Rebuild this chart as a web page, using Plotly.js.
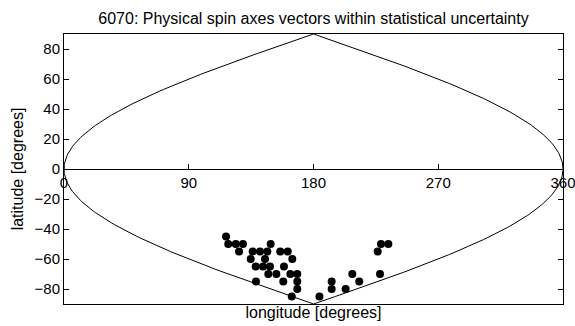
<!DOCTYPE html>
<html>
<head>
<meta charset="utf-8">
<script src="https://cdn.plot.ly/plotly-3.0.1.min.js"></script>
<style>html,body{margin:0;padding:0;background:#fff;}#chart{width:575px;height:326px;}</style>
</head>
<body>
<div id="chart"></div>
<script>
// Spin axis solutions (projected longitude, latitude)
const spinLon = [116.9, 118.5, 123.9, 129.1, 126.3, 149.1, 136.1, 141.4, 146.7, 156.0,
                 161.4, 134.7, 145.0, 164.7, 138.3, 143.6, 148.6, 158.7, 147.4, 153.2,
                 163.3, 168.3, 138.5, 158.2, 168.3, 168.3, 164.3, 184.3, 193.1, 193.1,
                 203.2, 208.0, 213.0, 228.0, 226.3, 228.7, 234.0];
const spinLat = [-45, -50, -50, -50, -55, -50, -55, -55, -55, -55,
                 -55, -60, -60, -60, -65, -65, -65, -65, -70, -70,
                 -70, -70, -75, -75, -75, -80, -85, -85, -75, -80,
                 -80, -70, -75, -70, -55, -50, -50];
const xTicks = [0, 90, 180, 270, 360];
const yTicks = [-80, -60, -40, -20, 0, 20, 40, 60, 80];

// Map outline (sinusoidal projection edge, lon = 0 and lon = 360)
const outlineLat = [];
for (let a = -90; a <= 90; a += 1) outlineLat.push(a);
const rad = Math.PI / 180;
const ox = [], oy = [];
outlineLat.forEach(a => { ox.push(180 - 180 * Math.cos(a * rad)); oy.push(a); });
outlineLat.slice().reverse().forEach(a => { ox.push(180 + 180 * Math.cos(a * rad)); oy.push(a); });

const fam = 'Liberation Sans, Arial, sans-serif';
const tickFont = {family: fam, size: 15, color: '#000'};
const labFont = {family: fam, size: 16, color: '#000'};

const data = [
  {x: ox, y: oy, type: 'scatter', mode: 'lines', line: {color: '#000', width: 1}, hoverinfo: 'skip'},
  {x: spinLon, y: spinLat, type: 'scatter', mode: 'markers',
   marker: {color: '#000', size: 8, symbol: 'circle'}},
  {x: [0], y: [0], xaxis: 'x2', yaxis: 'y', mode: 'markers', marker: {opacity: 0}, hoverinfo: 'skip'}
];

const layout = {
  width: 575, height: 326,
  margin: {l: 64, r: 12, t: 34, b: 22, pad: 0},
  paper_bgcolor: '#fff', plot_bgcolor: '#fff',
  showlegend: false,
  font: tickFont,
  title: {text: '6070: Physical spin axes vectors within statistical uncertainty',
          font: labFont,
          x: 0.5, xanchor: 'center', xref: 'paper', y: 0.945, yanchor: 'middle'},
  xaxis: {range: [0, 360], showgrid: false, zeroline: false, showline: true, mirror: true,
          linecolor: '#000', linewidth: 1, showticklabels: false, ticks: '',
          title: {text: 'longitude [degrees]', font: labFont, standoff: 2}},
  xaxis2: {range: [0, 360], overlaying: 'x', anchor: 'free', position: 0.5, side: 'bottom',
           showgrid: false, zeroline: false, showline: true, linecolor: '#000', linewidth: 1,
           tickmode: 'array', tickvals: xTicks, ticktext: xTicks.map(String),
           ticklabeloverflow: 'allow',
           ticks: 'inside', ticklen: 5, tickcolor: '#000', tickfont: tickFont},
  yaxis: {range: [-90, 90], showgrid: false, zeroline: false, showline: true, mirror: 'ticks',
          linecolor: '#000', linewidth: 1, tickmode: 'array', tickvals: yTicks,
          ticks: 'inside', ticklen: 5, tickcolor: '#000', tickfont: tickFont,
          title: {text: 'latitude [degrees]', font: labFont, standoff: 6}}
};

Plotly.newPlot('chart', data, layout, {displayModeBar: false, staticPlot: true});
</script>
</body>
</html>
